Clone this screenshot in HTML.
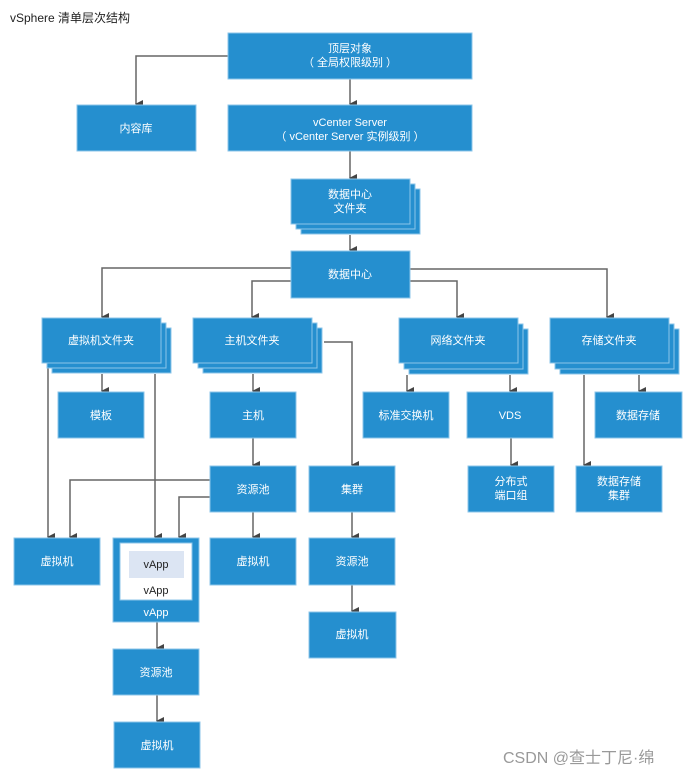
<!DOCTYPE html>
<html><head><meta charset="utf-8"><style>
html,body{margin:0;padding:0;background:#fff;width:694px;height:777px;overflow:hidden}
svg{display:block}
text{font-family:"Liberation Sans","Noto Sans CJK SC",sans-serif}
.b{fill:#258fcf;stroke:#8cc6ea;stroke-width:1}
.t{fill:#fff;font-size:11px;text-anchor:middle}
.l{stroke:#666;stroke-width:1.5;fill:none}
</style></head><body>
<svg width="694" height="777" viewBox="0 0 694 777">
<defs><marker id="a" markerWidth="8" markerHeight="8" refX="4" refY="7" orient="auto" markerUnits="userSpaceOnUse"><path d="M0,0 L8,0 L4,8 z" fill="#444"/></marker></defs>
<text x="10" y="22" font-size="12" fill="#222">vSphere 清单层次结构</text>

<!-- connectors -->
<g class="l">
<path d="M228,56 H136 V104" marker-end="url(#a)"/>
<path d="M350,79 V104" marker-end="url(#a)"/>
<path d="M350,151 V178" marker-end="url(#a)"/>
<path d="M350,235 V250" marker-end="url(#a)"/>
<path d="M291,268 H102 V317" marker-end="url(#a)"/>
<path d="M291,281 H252 V317" marker-end="url(#a)"/>
<path d="M410,269 H607 V317" marker-end="url(#a)"/>
<path d="M410,281 H457 V317" marker-end="url(#a)"/>
<path d="M102,374 V391" marker-end="url(#a)"/>
<path d="M253,374 V391" marker-end="url(#a)"/>
<path d="M407,375 V391" marker-end="url(#a)"/>
<path d="M510,375 V391" marker-end="url(#a)"/>
<path d="M639,375 V391" marker-end="url(#a)"/>
<path d="M584,375 V465" marker-end="url(#a)"/>
<path d="M511,438 V465" marker-end="url(#a)"/>
<path d="M324,342 H352 V465" marker-end="url(#a)"/>
<path d="M253,438 V465" marker-end="url(#a)"/>
<path d="M48,368 V537" marker-end="url(#a)"/>
<path d="M155,374 V537" marker-end="url(#a)"/>
<path d="M210,480 H70 V537" marker-end="url(#a)"/>
<path d="M210,497 H179 V537" marker-end="url(#a)"/>
<path d="M253,512 V537" marker-end="url(#a)"/>
<path d="M352,512 V537" marker-end="url(#a)"/>
<path d="M352,585 V611" marker-end="url(#a)"/>
<path d="M157,622 V648" marker-end="url(#a)"/>
<path d="M157,695 V721" marker-end="url(#a)"/>
</g>

<!-- top -->
<rect class="b" x="228" y="33" width="244" height="46"/>
<text class="t" x="350" y="52">顶层对象</text>
<text class="t" x="350" y="66">（ 全局权限级别 ）</text>
<rect class="b" x="77" y="105" width="119" height="46"/>
<text class="t" x="136" y="132">内容库</text>
<rect class="b" x="228" y="105" width="244" height="46"/>
<text class="t" x="350" y="126">vCenter Server</text>
<text class="t" x="350" y="140">（ vCenter Server 实例级别 ）</text>

<!-- DC folder stack -->
<rect class="b" x="301" y="189" width="119" height="45"/>
<rect class="b" x="296" y="184" width="119" height="45"/>
<rect class="b" x="291" y="179" width="119" height="45"/>
<text class="t" x="350" y="198">数据中心</text>
<text class="t" x="350" y="212">文件夹</text>

<rect class="b" x="291" y="251" width="119" height="47"/>
<text class="t" x="350" y="278">数据中心</text>

<!-- folder stacks -->
<g>
<rect class="b" x="52" y="328" width="119" height="45"/><rect class="b" x="47" y="323" width="119" height="45"/><rect class="b" x="42" y="318" width="119" height="45"/>
<text class="t" x="101" y="344">虚拟机文件夹</text>
<rect class="b" x="203" y="328" width="119" height="45"/><rect class="b" x="198" y="323" width="119" height="45"/><rect class="b" x="193" y="318" width="119" height="45"/>
<text class="t" x="252" y="344">主机文件夹</text>
<rect class="b" x="409" y="329" width="119" height="45"/><rect class="b" x="404" y="324" width="119" height="45"/><rect class="b" x="399" y="318" width="119" height="45"/>
<text class="t" x="458" y="344">网络文件夹</text>
<rect class="b" x="560" y="329" width="119" height="45"/><rect class="b" x="555" y="324" width="119" height="45"/><rect class="b" x="550" y="318" width="119" height="45"/>
<text class="t" x="609" y="344">存储文件夹</text>
</g>

<!-- row 2 -->
<rect class="b" x="58" y="392" width="86" height="46"/><text class="t" x="101" y="419">模板</text>
<rect class="b" x="210" y="392" width="86" height="46"/><text class="t" x="253" y="419">主机</text>
<rect class="b" x="363" y="392" width="86" height="46"/><text class="t" x="406" y="419">标准交换机</text>
<rect class="b" x="467" y="392" width="86" height="46"/><text class="t" x="510" y="419">VDS</text>
<rect class="b" x="595" y="392" width="87" height="46"/><text class="t" x="638" y="419">数据存储</text>

<!-- row 3 -->
<rect class="b" x="210" y="466" width="86" height="46"/><text class="t" x="253" y="493">资源池</text>
<rect class="b" x="309" y="466" width="86" height="46"/><text class="t" x="352" y="493">集群</text>
<rect class="b" x="468" y="466" width="86" height="46"/><text class="t" x="511" y="485">分布式</text><text class="t" x="511" y="499">端口组</text>
<rect class="b" x="576" y="466" width="86" height="46"/><text class="t" x="619" y="485">数据存储</text><text class="t" x="619" y="499">集群</text>

<!-- row 4 -->
<rect class="b" x="14" y="538" width="86" height="47"/><text class="t" x="57" y="565">虚拟机</text>
<rect class="b" x="113" y="538" width="86" height="84"/>
<rect x="120" y="543" width="72" height="57" fill="#fff" stroke="#8cc6ea"/>
<rect x="129" y="551" width="55" height="27" fill="#dce5f3"/>
<text x="156" y="568" font-size="11" fill="#222" text-anchor="middle">vApp</text>
<text x="156" y="594" font-size="11" fill="#222" text-anchor="middle">vApp</text>
<text class="t" x="156" y="616">vApp</text>
<rect class="b" x="210" y="538" width="86" height="47"/><text class="t" x="253" y="565">虚拟机</text>
<rect class="b" x="309" y="538" width="86" height="47"/><text class="t" x="352" y="565">资源池</text>
<rect class="b" x="309" y="612" width="87" height="46"/><text class="t" x="352" y="638">虚拟机</text>
<rect class="b" x="113" y="649" width="86" height="46"/><text class="t" x="156" y="676">资源池</text>
<rect class="b" x="114" y="722" width="86" height="46"/><text class="t" x="157" y="749">虚拟机</text>

<text x="503" y="763" font-size="16" fill="#999">CSDN @查士丁尼·绵</text>
</svg>
</body></html>
